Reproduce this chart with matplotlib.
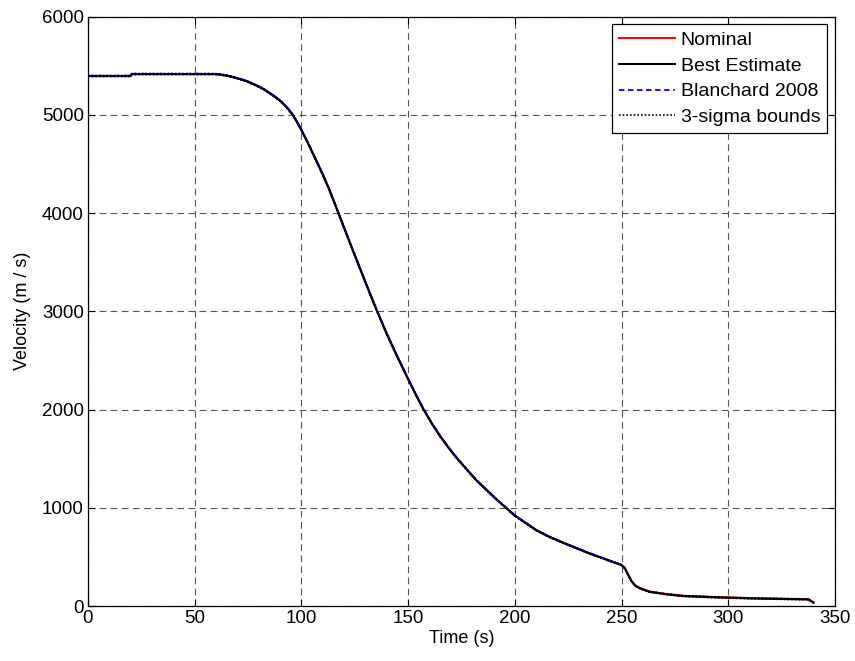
import matplotlib
matplotlib.use("Agg")
import matplotlib.pyplot as plt

plt.rcParams['font.family'] = ['Liberation Sans', 'DejaVu Sans']

# Time grid (s)
time_s = [0, 20, 20.5, 59, 62, 66, 70, 74, 78, 82, 86, 88, 90, 92, 94, 96, 98, 100,
          103, 106, 110, 113, 116.8, 120, 125, 130, 135, 140, 145, 150, 154, 157,
          161, 165, 169, 173, 182, 191, 200, 210, 216, 223, 235, 250, 251.5, 253,
          254.7, 256.5, 258.6, 263, 271, 279, 294.5, 310, 327, 337.5, 340]

best_estimate = [5395, 5395, 5415, 5415, 5410, 5395, 5372, 5345, 5308, 5265, 5208,
                 5178, 5143, 5102, 5054, 4998, 4925, 4845, 4715, 4578, 4392, 4242,
                 4030, 3850, 3570, 3295, 3025, 2770, 2535, 2310, 2135, 2010, 1862,
                 1728, 1610, 1500, 1279, 1093, 920, 772, 705, 640, 535, 416, 385, 320,
                 250, 205, 180, 145, 119, 101, 88, 78, 71, 67, 33]

nominal = [5395, 5395, 5415, 5415, 5410, 5395, 5372, 5345, 5308, 5265, 5208,
           5178, 5143, 5102, 5054, 4998, 4925, 4845, 4715, 4578, 4392, 4242,
           4030, 3850, 3570, 3295, 3025, 2770, 2535, 2310, 2135, 2010, 1862,
           1728, 1610, 1500, 1279, 1093, 920, 772, 705, 640, 535, 418, 388, 323,
           253, 208, 183, 148, 122, 104, 91, 80, 73, 70, 36]

blanchard_time = [0, 20, 20.5, 59, 62, 66, 70, 74, 78, 82, 86, 88, 90, 92, 94, 96, 98,
                  100, 103, 106, 110, 113, 116.8, 120, 125, 130, 135, 140, 145, 150,
                  154, 157, 161, 165, 169, 173, 182, 191, 200, 210, 216, 223, 235, 250]
blanchard_2008 = [5398, 5398, 5418, 5418, 5413, 5398, 5376, 5349, 5312, 5269, 5212,
                  5182, 5147, 5106, 5058, 5002, 4930, 4850, 4720, 4583, 4397, 4247,
                  4035, 3855, 3575, 3300, 3030, 2775, 2540, 2315, 2140, 2015, 1867,
                  1733, 1614, 1504, 1283, 1097, 924, 776, 709, 643, 538, 419]

sigma_upper = [5400, 5400, 5420, 5420, 5415, 5400, 5377, 5350, 5313, 5270, 5213,
               5183, 5148, 5107, 5059, 5003, 4930, 4850, 4720, 4583, 4397, 4247,
               4035, 3855, 3575, 3300, 3030, 2775, 2540, 2315, 2140, 2015, 1867,
               1733, 1615, 1505, 1284, 1098, 925, 777, 710, 644, 539, 420, 389, 324,
               254, 209, 184, 149, 123, 105, 92, 82, 75, 71, 37]
sigma_lower = [5390, 5390, 5410, 5410, 5405, 5390, 5367, 5340, 5303, 5260, 5203,
               5173, 5138, 5097, 5049, 4993, 4920, 4840, 4710, 4573, 4387, 4237,
               4025, 3845, 3565, 3290, 3020, 2765, 2530, 2305, 2130, 2005, 1857,
               1723, 1605, 1495, 1274, 1088, 915, 767, 700, 636, 531, 412, 381, 316,
               246, 201, 176, 141, 115, 97, 84, 74, 67, 63, 30]

x_ticks = [0, 50, 100, 150, 200, 250, 300, 350]
y_ticks = [0, 1000, 2000, 3000, 4000, 5000, 6000]

fig = plt.figure(figsize=(8.55, 6.61), dpi=100)
ax = fig.add_axes([0.1029, 0.0832, 0.8737, 0.8917])

ax.plot(time_s, nominal, color='#ff0000', lw=1.5, label='Nominal', zorder=3)
ax.plot(time_s, best_estimate, color='black', lw=1.5, label='Best Estimate', zorder=4)
ax.plot(blanchard_time, blanchard_2008, color='#0000ff', lw=1.3, ls=(0, (3, 2)),
        label='Blanchard 2008', zorder=5)
ax.plot(time_s, sigma_upper, color='black', lw=1.2, ls=(0, (1, 1.2)),
        label='3-sigma bounds', zorder=6)
ax.plot(time_s, sigma_lower, color='black', lw=1.2, ls=(0, (1, 1.2)), zorder=6)

ax.set_xlim(0, 350)
ax.set_ylim(0, 6000)
ax.set_xticks(x_ticks)
ax.set_yticks(y_ticks)
ax.grid(True, color='#555555', lw=0.8, ls=(0, (6, 4)))
ax.set_axisbelow(True)
ax.tick_params(direction='in', top=True, right=True, labelsize=13.5, length=5,
               width=0.8, pad=3)
for s in ax.spines.values():
    s.set_linewidth(0.9)
    s.set_color('black')

ax.set_xlabel('Time (s)', fontsize=13, labelpad=2)
ax.set_ylabel('Velocity (m / s)', fontsize=13, labelpad=8)

leg = ax.legend(loc='upper right', fontsize=14, frameon=True, fancybox=False,
                edgecolor='black', framealpha=1, borderaxespad=0.4,
                handlelength=2.9, labelspacing=0.42, borderpad=0.35,
                handletextpad=0.3)
leg.get_frame().set_linewidth(0.9)

fig.savefig('out.png', dpi=100)
